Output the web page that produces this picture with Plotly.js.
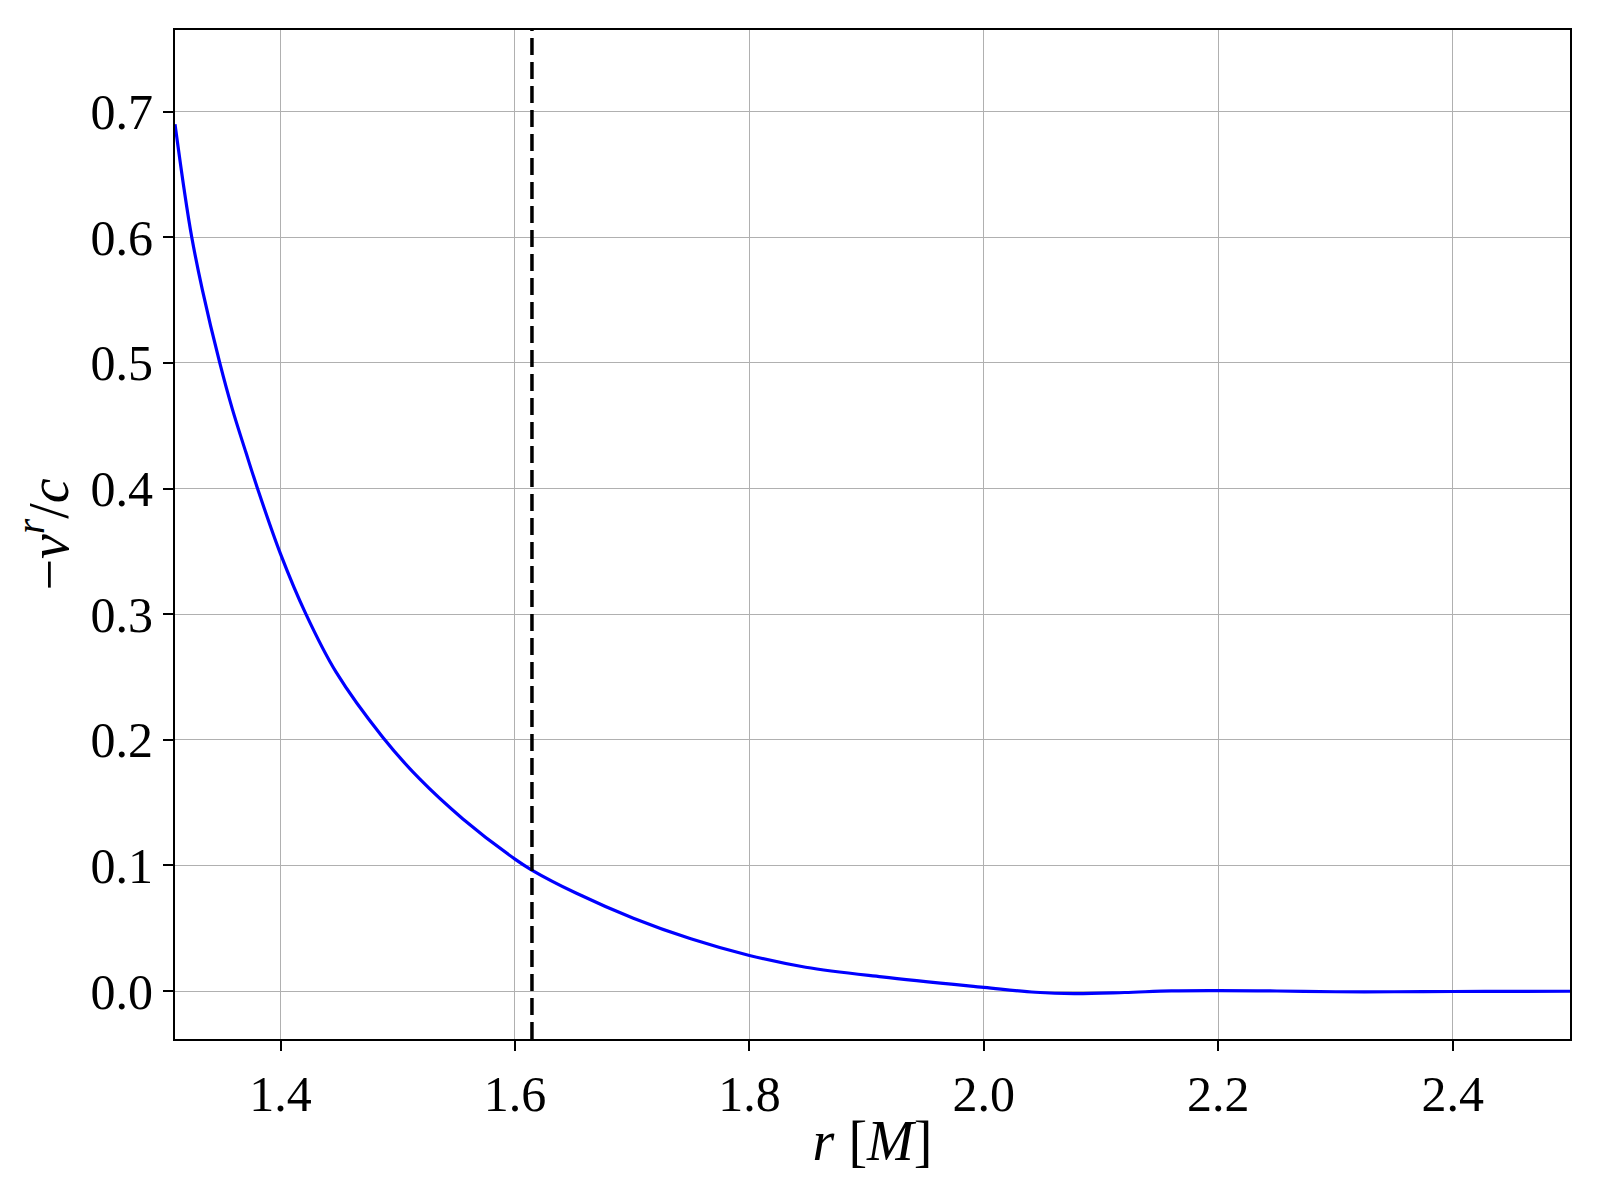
<!DOCTYPE html>
<html>
<head>
<meta charset="utf-8">
<script src="https://cdn.plot.ly/plotly-3.0.1.min.js"></script>
<style>
  html, body { margin: 0; padding: 0; background: #fff; }
  #plot { width: 1600px; height: 1200px; }
</style>
</head>
<body>
<div id="plot"></div>
<script>
// radius in units of M
const radius = [1.310, 1.3178, 1.3243, 1.3334, 1.3482, 1.359, 1.3704, 1.3804, 1.400, 1.4217,
                1.4473, 1.4872, 1.5185, 1.5556, 1.600, 1.614, 1.652, 1.701, 1.750, 1.800,
                1.848, 1.913, 2.0, 2.044, 2.077, 2.12, 2.16, 2.2, 2.25, 2.3, 2.35, 2.4, 2.45, 2.5];
// -v^r / c
const velocity = [0.690, 0.638, 0.600, 0.558, 0.500, 0.463, 0.429, 0.400, 0.348, 0.300,
                  0.254, 0.202, 0.169, 0.137, 0.105, 0.0965, 0.078, 0.058, 0.0416, 0.0283,
                  0.0189, 0.0112, 0.0029, -0.001, -0.0021, -0.0012, 0.0001, 0.0003, 0.0, -0.0006,
                  -0.0006, -0.0004, -0.0003, -0.0002];

// position of the dashed marker line
const markerRadius = 1.6145;

const xTicks = [1.4, 1.6, 1.8, 2.0, 2.2, 2.4];
const yTicks = [0.0, 0.1, 0.2, 0.3, 0.4, 0.5, 0.6, 0.7];

const serif = '"Liberation Serif", "DejaVu Serif", serif';

const traces = [{
    x: radius,
    y: velocity,
    mode: 'lines',
    line: { color: '#0000ff', width: 3.2, shape: 'spline', smoothing: 1 },
    showlegend: false,
    hoverinfo: 'skip'
}];

const axisCommon = {
    showline: true,
    mirror: true,
    linecolor: 'black',
    linewidth: 2,
    ticks: 'outside',
    ticklen: 10,
    tickwidth: 2,
    tickcolor: 'black',
    showgrid: true,
    gridcolor: '#b0b0b0',
    gridwidth: 1,
    zeroline: false,
    tickfont: { family: serif, size: 50, color: 'black' },
    tickformat: '.1f'
};

const layout = {
    width: 1600,
    height: 1200,
    margin: { l: 175, r: 30, t: 30, b: 161 },
    paper_bgcolor: 'white',
    plot_bgcolor: 'white',
    showlegend: false,
    xaxis: Object.assign({}, axisCommon, {
        range: [1.31, 2.5],
        tickvals: xTicks,
        title: {
            text: '<i>r</i> [<i>M</i>]',
            font: { family: serif, size: 56, color: 'black' },
            standoff: 0
        }
    }),
    yaxis: Object.assign({}, axisCommon, {
        range: [-0.0382, 0.765],
        tickvals: yTicks,
        title: {
            text: '\u2212<i>v</i><sup><i>r</i></sup>/<i>c</i>',
            font: { family: serif, size: 56, color: 'black' },
            standoff: 4
        }
    }),
    shapes: [{
        type: 'line',
        xref: 'x',
        yref: 'paper',
        x0: markerRadius,
        x1: markerRadius,
        y0: 0,
        y1: 1,
        line: { color: 'black', width: 3.5, dash: '17px,7px' }
    }]
};

Plotly.newPlot('plot', traces, layout, { staticPlot: true, displayModeBar: false });
</script>
</body>
</html>
